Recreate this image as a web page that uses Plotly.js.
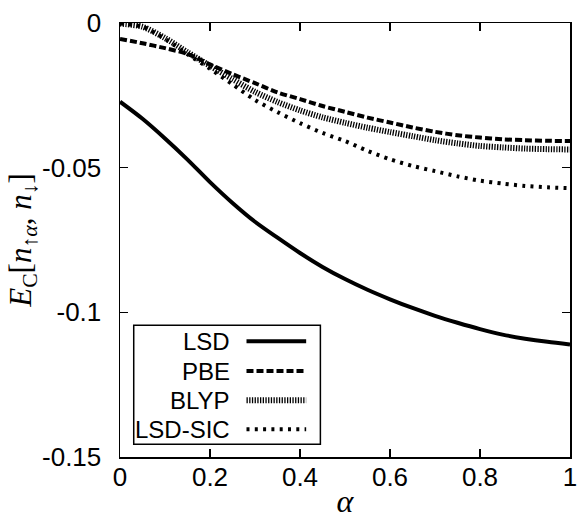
<!DOCTYPE html>
<html>
<head>
<meta charset="utf-8">
<script src="https://cdn.plot.ly/plotly-3.0.1.min.js"></script>
<style>html,body{margin:0;padding:0;background:#fff;}#chart{width:578px;height:519px;}</style>
</head>
<body>
<div id="chart"></div>
<script>
// alpha grid
const alpha = [0,0.05,0.1,0.15,0.2,0.25,0.3,0.35,0.4,0.45,0.5,0.55,0.6,0.65,0.7,0.75,0.8,0.85,0.9,0.95,1];
// correlation energies
const lsd  = [-0.0272,-0.0331,-0.0399,-0.0472,-0.0550,-0.0622,-0.0687,-0.0742,-0.0795,-0.0843,-0.0885,-0.0922,-0.0955,-0.0985,-0.1012,-0.1036,-0.1058,-0.1077,-0.1091,-0.1102,-0.1111];
const pbe  = [-0.0055,-0.0070,-0.0087,-0.0107,-0.0143,-0.0177,-0.0208,-0.0240,-0.0263,-0.0287,-0.0307,-0.0327,-0.0344,-0.0361,-0.0376,-0.0388,-0.0396,-0.0402,-0.0405,-0.0407,-0.0408];
const blyp = [-0.0002,-0.0013,-0.0052,-0.0101,-0.0148,-0.0194,-0.0238,-0.0273,-0.0302,-0.0326,-0.0345,-0.0362,-0.0377,-0.0391,-0.0405,-0.0416,-0.0425,-0.0430,-0.0434,-0.0436,-0.0437];
const sic  = [-0.0002,-0.0013,-0.0055,-0.0108,-0.0158,-0.0212,-0.0266,-0.0308,-0.0346,-0.0380,-0.0408,-0.0442,-0.0471,-0.0494,-0.0512,-0.0530,-0.0545,-0.0555,-0.0563,-0.0568,-0.0571];
const seriesNames = ["LSD","PBE","BLYP","LSD-SIC"];
const xTicks = [0,0.2,0.4,0.6,0.8,1];
const xTickText = ["0","0.2","0.4","0.6","0.8","1"];
const yTicks = [0,-0.05,-0.1,-0.15];
const yTickText = ["0","-0.05","-0.1","-0.15"];

const SANS = "Liberation Sans, Arial, sans-serif";
const SERIF = "Liberation Serif, DejaVu Serif, serif";

const styles = [
  {width:4, dash:"solid"},
  {width:4, dash:"7px,3px"},
  {width:6, dash:"1.3px,1.4px"},
  {width:4, dash:"3px,5.3px"}
];
const ys = [lsd,pbe,blyp,sic];
const traces = ys.map((y,i)=>({
  x: alpha, y: y, type:"scatter", mode:"lines", name: seriesNames[i],
  line:{color:"#000", width:styles[i].width, dash:styles[i].dash, shape:"spline", smoothing:0.8},
  showlegend:false, hoverinfo:"skip"
}));

// custom legend (text left of sample, as in the reference)
const legRows = [0.2665,0.198,0.1306,0.0638];
const shapes = [{type:"rect", xref:"paper", yref:"paper", x0:0.0305, x1:0.4453, y0:0.0292, y1:0.3033,
  line:{color:"#000", width:1.5}, fillcolor:"#fff", layer:"above"}];
const annotations = [];
seriesNames.forEach((n,i)=>{
  shapes.push({type:"line", xref:"paper", yref:"paper", x0:0.2811, x1:0.4137, y0:legRows[i], y1:legRows[i],
    line:{color:"#000", width:styles[i].width, dash:styles[i].dash}, layer:"above"});
  annotations.push({xref:"paper", yref:"paper", x:0.2486, y:legRows[i], xanchor:"right", yanchor:"middle",
    text:n, showarrow:false, font:{family:SANS, size:24, color:"#000"}});
});

const layout = {
  width:578, height:519,
  margin:{l:119.5, r:7.5, t:22.5, b:62.3},
  paper_bgcolor:"#fff", plot_bgcolor:"#fff",
  font:{family:SANS, size:26, color:"#000"},
  xaxis:{range:[0,1], tickvals:xTicks, ticktext:xTickText, ticks:"inside", ticklen:8, tickwidth:1.5, tickcolor:"#000",
    showline:true, linecolor:"#000", linewidth:1.5, mirror:"ticks", showgrid:false, zeroline:false,
    ticklabelstandoff:-4, ticklabeloverflow:"allow",
    title:{text:"<i>α</i>", font:{family:SERIF, size:32}, standoff:0}},
  yaxis:{range:[-0.15,0], tickvals:yTicks, ticktext:yTickText, ticks:"inside", ticklen:8, tickwidth:1.5, tickcolor:"#000",
    showline:true, linecolor:"#000", linewidth:1.5, mirror:"ticks", showgrid:false, zeroline:false,
    ticklabelstandoff:12, ticklabeloverflow:"allow",
    title:{text:"<i>E</i><sub>C</sub>[<i>n</i><sub>↑<i>α</i></sub>, <i>n</i><sub>↓</sub>]", font:{family:SERIF, size:31}, standoff:0}},
  shapes: shapes,
  annotations: annotations,
  showlegend:false
};
Plotly.newPlot("chart", traces, layout, {displayModeBar:false, staticPlot:true});
</script>
</body>
</html>
